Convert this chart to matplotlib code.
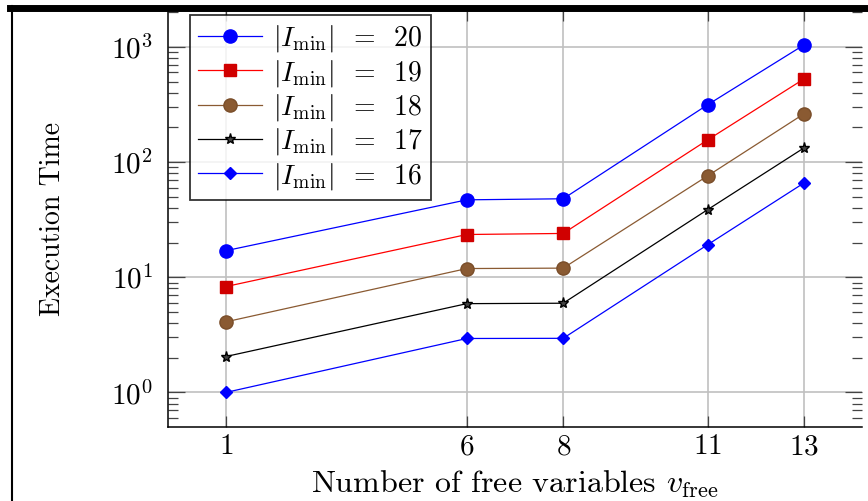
import matplotlib
matplotlib.use("Agg")
import matplotlib.pyplot as plt
from matplotlib.lines import Line2D
from matplotlib.ticker import LogLocator, NullFormatter

plt.rcParams["font.family"] = "serif"
plt.rcParams["font.serif"] = ["cmr10"]
plt.rcParams["mathtext.fontset"] = "cm"
plt.rcParams["axes.formatter.use_mathtext"] = True

# Anzahl freier Variablen
free_vars = [1, 6, 8, 11, 13]

# Ausfuehrungszeiten je |I_min|
time_20 = [17.0, 47.0, 48.0, 315.0, 1042.0]
time_19 = [8.3, 23.5, 24.0, 156.0, 528.0]
time_18 = [4.1, 11.9, 12.0, 76.0, 263.0]
time_17 = [2.05, 5.9, 5.95, 38.7, 133.0]
time_16 = [1.0, 2.94, 2.95, 19.2, 66.0]

series_labels = [r"$|I_{\min}|\;\;=\;\;20$", r"$|I_{\min}|\;\;=\;\;19$",
                 r"$|I_{\min}|\;\;=\;\;18$", r"$|I_{\min}|\;\;=\;\;17$",
                 r"$|I_{\min}|\;\;=\;\;16$"]

fig = plt.figure(figsize=(8.68, 5.01), dpi=100)
ax = fig.add_axes([168 / 868, 74 / 501, 694 / 868, 417 / 501])

styles = [
    dict(color="#0000ff", marker="o", markersize=9.5, mfc="#0000ff", mec="#0000ff"),
    dict(color="#ff0000", marker="s", markersize=9, mfc="#d00000", mec="#d00000"),
    dict(color="#8a5a32", marker="o", markersize=9.5, mfc="#8a5a32", mec="#7a4e2a"),
    dict(color="#000000", marker="*", markersize=8, mfc="#444444", mec="#000000"),
    dict(color="#0000ff", marker="D", markersize=6, mfc="#0000ff", mec="#0000ff"),
]
all_series = [time_20, time_19, time_18, time_17, time_16]

for values, label, st in zip(all_series, series_labels, styles):
    ax.plot(free_vars, values, label=label, linewidth=0.9, **st)

ax.set_yscale("log")
ax.set_xlim(-0.2, 14.2)
ax.set_ylim(10 ** -0.3, 10 ** 3.32)
ax.set_xticks(free_vars)
ax.yaxis.set_major_locator(LogLocator(base=10, numticks=10))
ax.yaxis.set_minor_locator(LogLocator(base=10, subs=range(2, 10), numticks=20))
ax.yaxis.set_minor_formatter(NullFormatter())

ax.grid(True, which="major", color="#c0c0c0", linewidth=1.2)
ax.set_axisbelow(True)
ax.tick_params(axis="x", which="major", direction="in", length=8, labelsize=21,
               top=True, width=0.9, color="#444444", pad=5)
ax.tick_params(axis="y", which="major", direction="in", length=12, labelsize=21,
               left=True, right=True, width=0.9, color="#444444", pad=11)
ax.tick_params(axis="y", which="minor", direction="in", length=7, right=True,
               left=True, width=0.9, color="#444444")
ax.spines["right"].set_visible(False)
for side in ["left", "bottom", "top"]:
    ax.spines[side].set_linewidth(1.1)

ax.set_xlabel(r"Number of free variables $v_{\mathrm{free}}$", fontsize=23, labelpad=6)
ax.set_ylabel("Execution Time", fontsize=20, labelpad=32)

leg = ax.legend(loc="upper left", bbox_to_anchor=(190 / 868, 486 / 501),
                bbox_transform=fig.transFigure, fontsize=20, frameon=True,
                fancybox=False, edgecolor="black", handlelength=2.3,
                handletextpad=0.4, borderpad=0.3, labelspacing=0.12,
                borderaxespad=0.0)
leg.get_frame().set_linewidth(1.3)

# Rahmen des Screenshots
fig.add_artist(Line2D([10 / 868, 1], [493 / 501, 493 / 501], color="black",
                      linewidth=5, transform=fig.transFigure))
fig.add_artist(Line2D([12 / 868, 12 / 868], [0, 495 / 501], color="black",
                      linewidth=1.5, transform=fig.transFigure))

fig.savefig("out.png", dpi=100)
